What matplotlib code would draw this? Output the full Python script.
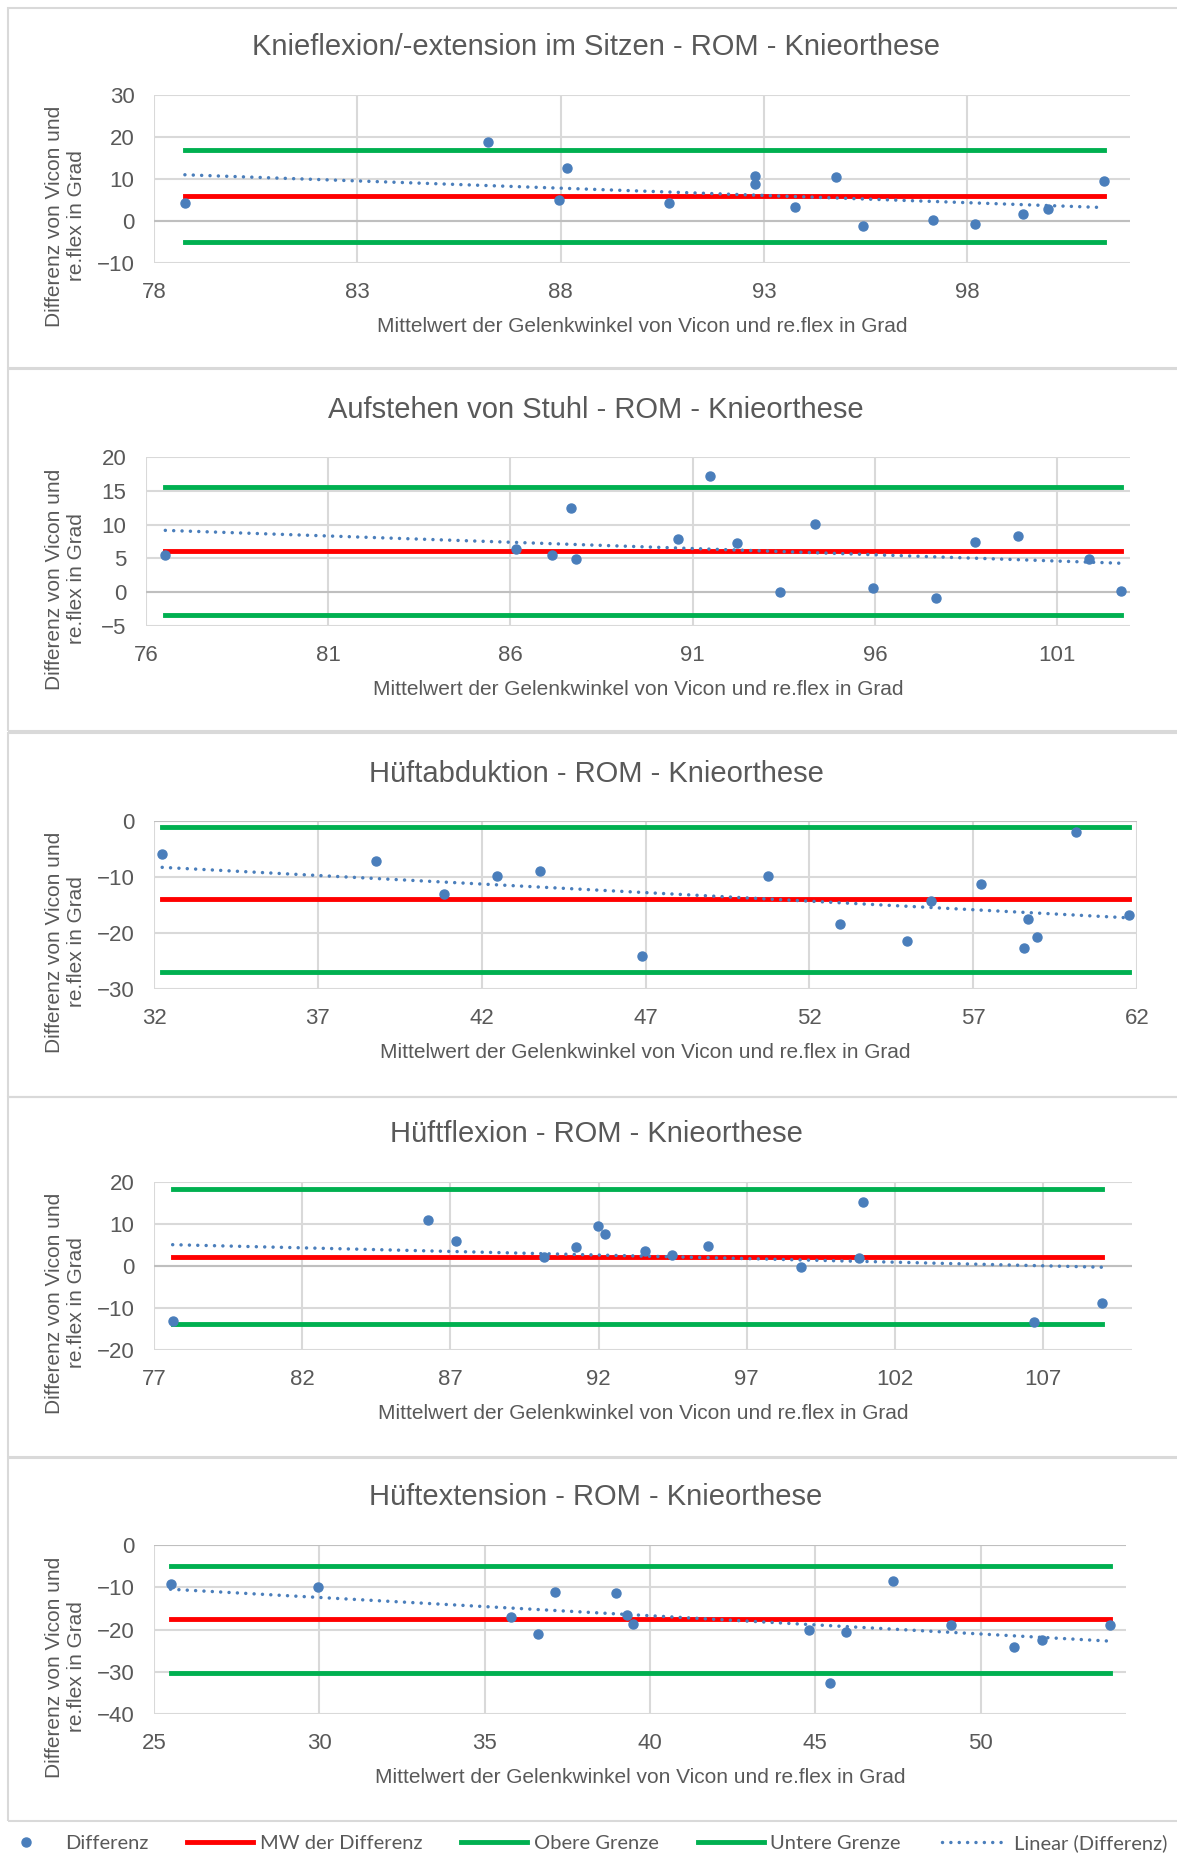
import numpy as np
import matplotlib.pyplot as plt
from matplotlib.lines import Line2D
from matplotlib.patches import Rectangle

# ---- data ----
titles = [
    "Knieflexion/-extension im Sitzen - ROM - Knieorthese",
    "Aufstehen von Stuhl - ROM - Knieorthese",
    "Hüftabduktion - ROM - Knieorthese",
    "Hüftflexion - ROM - Knieorthese",
    "Hüftextension - ROM - Knieorthese",
]

knie_x = [78.76, 86.22, 88.16, 87.95, 90.66, 92.78, 92.78, 93.76, 94.76, 95.44,
          97.15, 98.18, 99.36, 99.99, 101.35]
knie_y = [4.3, 18.9, 12.5, 5.0, 4.4, 10.6, 8.7, 3.3, 10.4, -1.1,
          0.2, -0.7, 1.7, 2.75, 9.6]

stuhl_x = [76.53, 86.14, 87.13, 87.67, 87.79, 90.61, 91.47, 92.23, 93.39, 94.37,
           95.94, 97.69, 98.76, 99.93, 101.88, 102.75]
stuhl_y = [5.54, 6.44, 5.54, 12.52, 4.9, 7.87, 17.18, 7.28, 0.1, 10.15,
           0.69, -0.79, 7.38, 8.27, 4.9, 0.2]

abd_x = [32.25, 38.76, 40.86, 42.47, 43.79, 46.88, 50.75, 52.93, 54.97, 55.70,
         57.24, 58.54, 58.68, 58.95, 60.14, 61.77]
abd_y = [-5.81, -7.11, -13.04, -9.78, -8.89, -24.19, -9.78, -18.32, -21.46, -14.35,
         -11.2, -22.76, -17.55, -20.75, -2.02, -16.72]

hflex_x = [77.63, 86.25, 87.18, 90.17, 91.25, 91.99, 92.21, 93.58, 94.49, 95.68,
           98.84, 100.78, 100.93, 106.69, 108.99]
hflex_y = [-13.11, 10.89, 5.9, 2.1, 4.55, 9.47, 7.56, 3.68, 2.57, 4.79,
           -0.28, 1.86, 15.17, -13.43, -8.75]

hext_x = [25.5, 29.95, 35.8, 36.61, 37.14, 38.98, 39.3, 39.48, 44.82, 45.45,
          45.93, 47.36, 49.11, 51.0, 51.86, 53.93]
hext_y = [-9.31, -10.02, -16.96, -21.14, -11.2, -11.28, -16.57, -18.78, -20.04, -32.74,
          -20.67, -8.6, -18.86, -24.22, -22.41, -18.93]

mean_diff = [6.0, 6.1, -14.0, 2.2, -17.6]
upper_lim = [17.0, 15.5, -1.1, 18.4, -5.0]
lower_lim = [-5.0, -3.3, -27.0, -13.9, -30.3]

xlims = [(78, 102), (76, 103), (32, 62), (77, 110), (25, 54.4)]
xticks = [range(78, 99, 5), range(76, 102, 5), range(32, 63, 5), range(77, 108, 5), range(25, 51, 5)]
ylims = [(-10, 30), (-5, 20), (-30, 0), (-20, 20), (-40, 0)]
ysteps = [10, 5, 10, 10, 10]

xs = [knie_x, stuhl_x, abd_x, hflex_x, hext_x]
ys = [knie_y, stuhl_y, abd_y, hflex_y, hext_y]

# ---- layout (pixels of the 1177x1854 canvas) ----
W, H = 1177, 1854
plot_boxes = [(154, 95, 1130, 263), (146, 457, 1130, 626), (154, 821, 1137, 989),
              (154, 1182, 1132, 1350), (154, 1545, 1126, 1714)]
chart_boxes = [(8, 368), (369, 731), (733, 1097), (1097, 1457), (1458, 1821)]
title_base = [55, 418, 782, 1142, 1505]

txt = "#595959"
blue = "#4a7ebb"
red = "#ff0000"
green = "#00b050"
grid = "#d9d9d9"
font = "Liberation Sans"
dots = (0, (0.01, 2.4))

fig = plt.figure(figsize=(W / 100, H / 100), dpi=100)

for i in range(5):
    top, bot = chart_boxes[i]
    fig.patches.append(Rectangle((8 / W, 1 - bot / H), 1.2, (bot - top) / H,
                                 transform=fig.transFigure, fill=False,
                                 edgecolor=grid, lw=1.5))

    l, t, r, b = plot_boxes[i]
    ax = fig.add_axes([l / W, 1 - b / H, (r - l) / W, (b - t) / H])
    x = np.array(xs[i])
    y = np.array(ys[i])

    ax.set_xlim(*xlims[i])
    ax.set_ylim(*ylims[i])
    ax.set_xticks(list(xticks[i]))
    ax.set_yticks(np.arange(ylims[i][0], ylims[i][1] + 0.1, ysteps[i]))
    ax.grid(True, color=grid, lw=1.5)
    ax.set_axisbelow(True)
    for s in ax.spines.values():
        s.set_visible(False)
    ax.axhline(0, color="#bfbfbf", lw=1.5, zorder=1)
    ax.tick_params(length=0, labelsize=16, labelcolor=txt, pad=14)
    for lab in ax.get_xticklabels() + ax.get_yticklabels():
        lab.set_fontfamily(font)

    x0, x1 = x.min(), x.max()
    ax.plot([x0, x1], [mean_diff[i]] * 2, color=red, lw=3.5, zorder=3)
    ax.plot([x0, x1], [upper_lim[i]] * 2, color=green, lw=3.5, zorder=3)
    ax.plot([x0, x1], [lower_lim[i]] * 2, color=green, lw=3.5, zorder=3)
    # linear trend of the differences (Excel "Linear" trendline)
    k, d = np.polyfit(x, y, 1)
    ax.plot([x0, x1], [k * x0 + d, k * x1 + d], color=blue, lw=2.5,
            ls=dots, dash_capstyle="round", zorder=4)
    ax.plot(x, y, "o", color=blue, ms=6.5, zorder=5)

    fig.text(596 / W, 1 - title_base[i] / H, titles[i], ha="center", va="baseline",
             fontsize=21, color=txt, family=font)
    fig.text(((l + r) / 2) / W, 1 - (b + 69) / H,
             "Mittelwert der Gelenkwinkel von Vicon und re.flex in Grad",
             ha="center", va="baseline", fontsize=15, color=txt, family=font)
    fig.text(66 / W, 1 - (b - 47) / H, "Differenz von Vicon und\nre.flex in Grad",
             rotation=90, ha="center", va="center", fontsize=15, color=txt,
             family=font, multialignment="center")

# ---- legend, one entry at a time ----
entries = [
    (Line2D([], [], ls="none", marker="o", color=blue, ms=6.5), "Differenz", -7),
    (Line2D([], [], color=red, lw=3.5), "MW der Differenz", 187),
    (Line2D([], [], color=green, lw=3.5), "Obere Grenze", 461),
    (Line2D([], [], color=green, lw=3.5), "Untere Grenze", 698),
    (Line2D([], [], color=blue, lw=2.5, ls=dots, dash_capstyle="round"),
     "Linear (Differenz)", 942),
]
for h, lab, xpos in entries:
    fig.legend([h], [lab], loc="center left", bbox_to_anchor=(xpos / W, 1 - 1843 / H),
               frameon=False, borderpad=0, borderaxespad=0, handlelength=3.3,
               handletextpad=0.3, prop={"family": "Lato", "size": 14.5},
               labelcolor=txt)

fig.savefig("out.png", dpi=100)
